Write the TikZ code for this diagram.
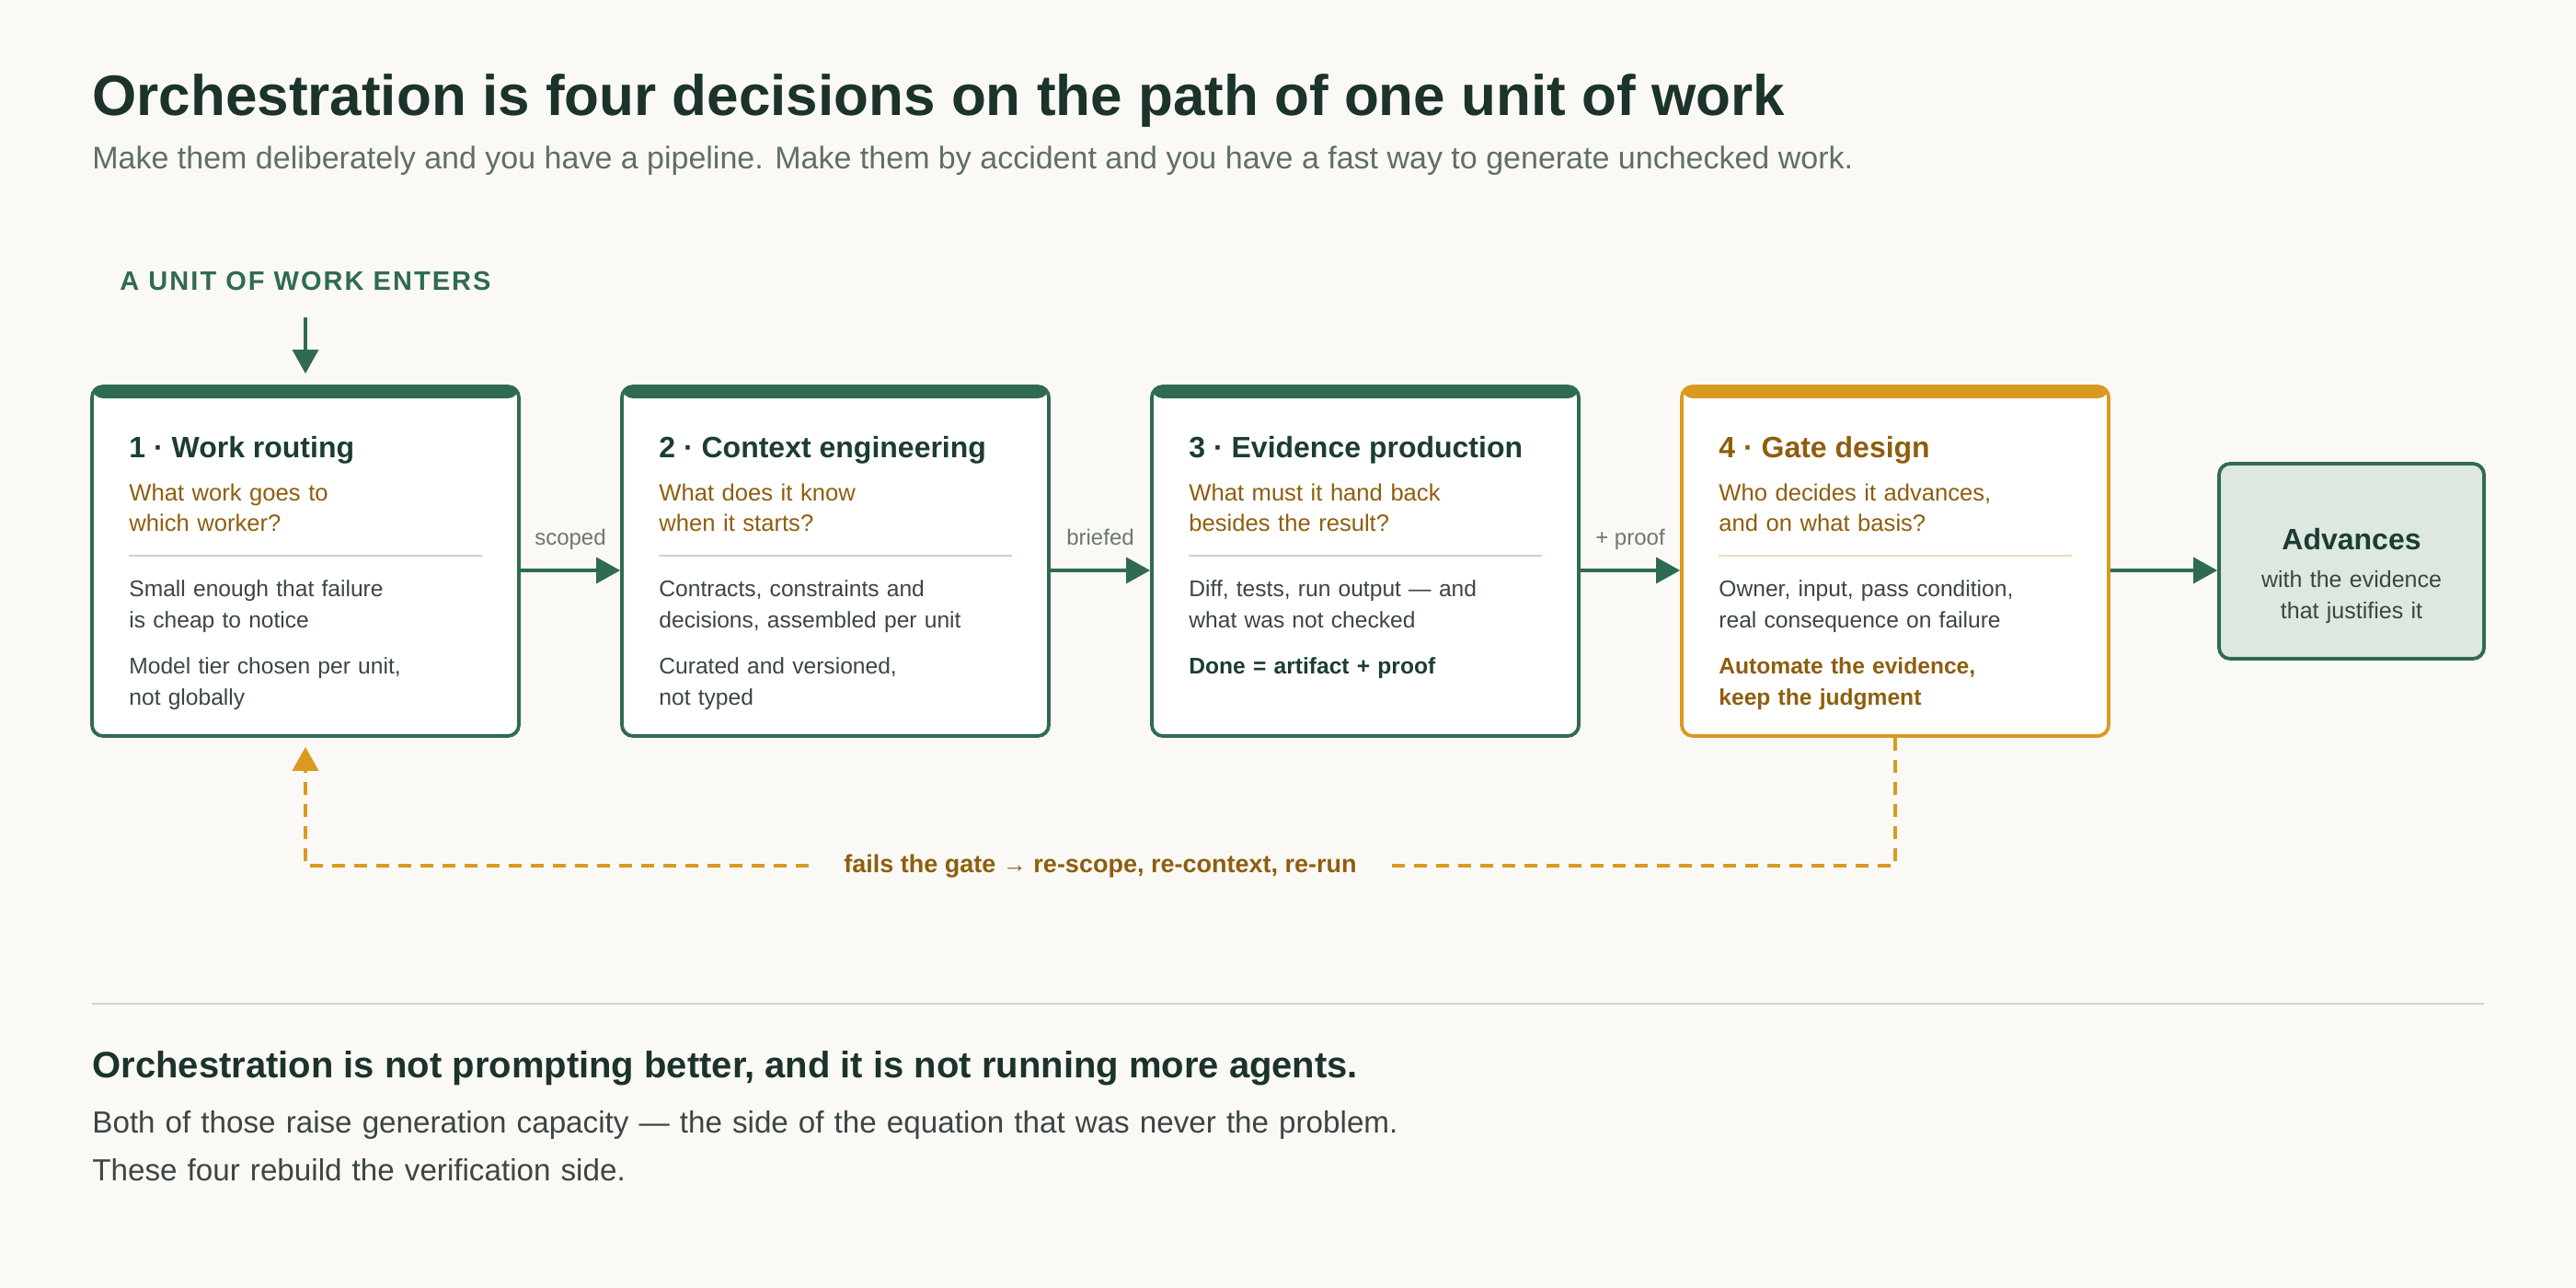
\documentclass[tikz,border=0pt]{standalone}
\usepackage{fontspec}
\setmainfont{Liberation Sans}
\newfontfamily\spacedfont[LetterSpace=7]{Liberation Sans}
\usetikzlibrary{arrows.meta,positioning}

\definecolor{bgcol}{HTML}{FAF9F5}
\definecolor{ink}{HTML}{1B3329}
\definecolor{boxink}{HTML}{1C3D31}
\definecolor{green}{HTML}{2F6B50}
\definecolor{orange}{HTML}{D99A22}
\definecolor{brown}{HTML}{8E5E0E}
\definecolor{bodycol}{HTML}{3B4641}
\definecolor{tagcol}{HTML}{6B7770}
\definecolor{subcol}{HTML}{5F6F68}
\definecolor{sepgreen}{HTML}{C8D5CE}
\definecolor{sepgold}{HTML}{EDDCB5}
\definecolor{advfill}{HTML}{DDE8E1}
\definecolor{rulecol}{HTML}{D5D3CD}

\begin{document}
\begin{tikzpicture}[x=1pt,y=-1pt,
  stage/.style={draw=#1,line width=1.9pt,rounded corners=6pt,fill=white,
    minimum width=232pt,minimum height=190pt,inner sep=0pt,
    path picture={\fill[#1] (path picture bounding box.north west) rectangle
      ([yshift=-6.5pt]path picture bounding box.north east);}},
  head/.style={anchor=base west,inner sep=0pt,font=\bfseries\fontsize{16}{19}\selectfont,text=boxink},
  ask/.style={anchor=base west,inner sep=0pt,text width=200pt,align=left,
    font=\fontsize{12.8}{16.5}\selectfont,text=brown},
  note/.style={anchor=base west,inner sep=0pt,text width=200pt,align=left,
    font=\fontsize{12.3}{17}\selectfont,text=bodycol},
  divider/.style={draw=#1,line width=1.2pt},
  flow/.style={draw=green,line width=1.8pt,-{Triangle[length=13pt,width=14pt]}},
  tag/.style={anchor=base,inner sep=0pt,font=\fontsize{12}{14}\selectfont,text=tagcol},
  back/.style={draw=orange,line width=2pt,dash pattern=on 7pt off 5pt}]

 \fill[bgcol] (0,0) rectangle (1400,700);
 \useasboundingbox (0,0) rectangle (1400,700);

 % heading
 \node[anchor=base west,inner sep=0pt,font=\bfseries\fontsize{31}{36}\selectfont,text=ink] (title) at (50,63)
   {Orchestration is four decisions on the path of one unit of work};
 \node[anchor=base west,inner sep=0pt,font=\fontsize{17}{20}\selectfont,text=subcol] (subtitle) at (50,92)
   {Make them deliberately and you have a pipeline. Make them by accident and you have a fast way to generate unchecked work.};

 % the four stages
 \foreach \i/\c in {1/green,2/green,3/green,4/orange}
   \node[stage=\c] (b\i) at ({166+288*(\i-1)},305) {};

 \node[anchor=base,inner sep=0pt,font=\spacedfont\bfseries\fontsize{14.5}{17}\selectfont,text=green] (enter) at (166,158)
   {A UNIT OF WORK ENTERS};
 \draw[flow] ([yshift=-14pt]enter.south) -- ([yshift=6pt]b1.north);

 \foreach \i/\j/\t in {1/2/scoped,2/3/briefed,3/4/+ proof}
   {\draw[flow] ([yshift=-5pt]b\i.east) -- ([yshift=-5pt]b\j.west);
    \node[tag] (tag\i) at ({310+288*(\i-1)},296.5) {\t};}

 \foreach \i in {1,2,3}
   \draw[divider=sepgreen] ({70+288*(\i-1)},302) -- ({262+288*(\i-1)},302);
 \draw[divider=sepgold] (934,302) -- (1126,302);

 \node[head] (h1) at (70,249) {1 · Work routing};
 \node[ask] (q1) at (70,272.5) {What work goes to\\which worker?};
 \node[note] (n1) at (70,324.5) {Small enough that failure\\is cheap to notice\\[8pt]Model tier chosen per unit,\\not globally};

 \node[head] (h2) at (358,249) {2 · Context engineering};
 \node[ask] (q2) at (358,272.5) {What does it know\\when it starts?};
 \node[note] (n2) at (358,324.5) {Contracts, constraints and\\decisions, assembled per unit\\[8pt]Curated and versioned,\\not typed};

 \node[head] (h3) at (646,249) {3 · Evidence production};
 \node[ask] (q3) at (646,272.5) {What must it hand back\\besides the result?};
 \node[note] (n3) at (646,324.5) {Diff, tests, run output — and\\what was not checked\\[8pt]\bfseries\color{boxink}Done = artifact + proof};

 \node[head,text=brown] (h4) at (934,249) {4 · Gate design};
 \node[ask] (q4) at (934,272.5) {Who decides it advances,\\and on what basis?};
 \node[note] (n4) at (934,324.5) {Owner, input, pass condition,\\real consequence on failure\\[8pt]\bfseries\color{brown}Automate the evidence,\\keep the judgment};

 % outcome
 \node[draw=green,line width=1.9pt,rounded corners=6pt,fill=advfill,minimum width=144pt,minimum height=106pt] (adv) at (1278,305) {};
 \draw[flow] ([yshift=-5pt]b4.east) -- ([yshift=-5pt]adv.west);
 \node[anchor=base,inner sep=0pt,font=\bfseries\fontsize{16}{19}\selectfont,text=boxink] (advt) at (1278,299) {Advances};
 \node[anchor=base,inner sep=0pt,text width=140pt,align=center,font=\fontsize{12.5}{17}\selectfont,text=bodycol] (advs) at (1278,319.5)
   {with the evidence\\that justifies it};

 % loop back on failure
 \node[anchor=base,inner xsep=19pt,inner ysep=0pt,font=\bfseries\fontsize{13.5}{16}\selectfont,text=brown] (fail) at (598,474)
   {fails the gate {\mdseries\fontsize{13}{13}\selectfont →} re-scope, re-context, re-run};
 \draw[back] (b4.south) |- (fail.east);
 \draw[back,-{Triangle[length=13pt,width=14pt]}] (fail.west) -| ([yshift=-5pt]b1.south);

 % closing note
 \draw[rulecol,line width=1pt] (50,545.5) -- (1350,545.5);
 \node[anchor=base west,inner sep=0pt,font=\bfseries\fontsize{20}{24}\selectfont,text=ink] (moral) at (50,585.5)
   {Orchestration is not prompting better, and it is not running more agents.};
 \node[anchor=base west,inner sep=0pt,text width=900pt,align=left,font=\fontsize{16.6}{26}\selectfont,text=bodycol] (why) at (50,615.5)
   {Both of those raise generation capacity — the side of the equation that was never the problem.\\These four rebuild the verification side.};
\end{tikzpicture}
\end{document}
